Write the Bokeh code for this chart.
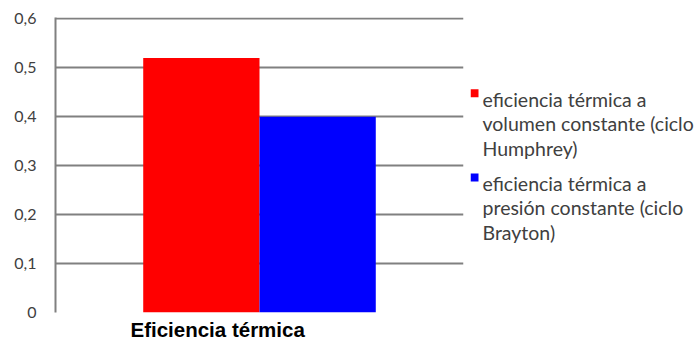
from bokeh.plotting import figure
from bokeh.layouts import row
from bokeh.models import (ColumnDataSource, FactorRange, Range1d, FixedTicker,
                          Title)
from bokeh.transform import dodge
from bokeh.core.properties import value
from bokeh.embed import file_html
from bokeh.resources import INLINE

# --- data -------------------------------------------------------------
category = ["Eficiencia térmica"]
series_names = [
    "eficiencia térmica a\nvolumen constante (ciclo\nHumphrey)",
    "eficiencia térmica a\npresión constante (ciclo\nBrayton)",
]
series_colors = ["#ff0000", "#0000ff"]
humphrey = [0.52]
brayton = [0.40]
y_ticks = [0.0, 0.1, 0.2, 0.3, 0.4, 0.5, 0.6]
y_tick_labels = ["0", "0,1", "0,2", "0,3", "0,4", "0,5", "0,6"]

GRID = "#808080"
TEXT = "#404040"
TOP, BOTTOM, H = 17, 30, 343

# --- bar chart --------------------------------------------------------
p = figure(width=470, height=H, output_backend="svg", toolbar_location=None,
           x_range=FactorRange(factors=category, range_padding=0),
           y_range=Range1d(0, 0.603),
           min_border_left=55, min_border_right=7,
           min_border_top=TOP, min_border_bottom=BOTTOM)
p.outline_line_color = None
p.background_fill_color = "white"
p.border_fill_color = "white"

src = ColumnDataSource(dict(cat=category, humphrey=humphrey, brayton=brayton))
bar_w = 0.285
p.vbar(x=dodge("cat", -0.1425, range=p.x_range), top="humphrey", width=bar_w,
       source=src, fill_color=series_colors[0], line_color=None)
p.vbar(x=dodge("cat", 0.1425, range=p.x_range), top="brayton", width=bar_w,
       source=src, fill_color=series_colors[1], line_color=None)

p.xaxis.visible = False
p.xgrid.visible = False
p.ygrid.ticker = FixedTicker(ticks=y_ticks)
p.ygrid.grid_line_color = GRID
p.ygrid.grid_line_width = 2

yax = p.yaxis[0]
yax.ticker = FixedTicker(ticks=y_ticks)
yax.major_label_overrides = {t: s for t, s in zip(y_ticks, y_tick_labels)}
yax.axis_line_color = GRID
yax.axis_line_width = 2
yax.major_tick_line_color = None
yax.minor_tick_line_color = None
yax.major_label_standoff = 13
yax.major_label_text_font = "Lato"
yax.major_label_text_font_size = "16px"
yax.major_label_text_color = TEXT

# category name under the bars
p.add_layout(Title(text=category[0], align="left", offset=75, standoff=6,
                   vertical_align="bottom",
                   text_font="Liberation Sans", text_font_size="20.5px",
                   text_font_style="bold", text_color="#000000"), "below")

# --- legend panel (data units = pixels) -------------------------------
leg = figure(width=228, height=H, output_backend="svg", toolbar_location=None,
             x_range=Range1d(0, 228), y_range=Range1d(H - BOTTOM, TOP),
             min_border_left=0, min_border_right=0,
             min_border_top=TOP, min_border_bottom=BOTTOM)
leg.axis.visible = False
leg.grid.visible = False
leg.outline_line_color = None

first_baseline = 99
line_step = 24.5
entry_gap = 11

# one square per series, one text row per wrapped line
sq_x, sq_y, tx, ty, lines = [], [], [], [], []
y = first_baseline
for name in series_names:
    parts = name.split("\n")
    sq_x.append(4)
    sq_y.append(y - 6)
    for part in parts:
        lines.append(part)
        tx.append(12)
        ty.append(y)
        y += line_step
    y += entry_gap

leg.scatter(x=sq_x, y=sq_y, marker="square", size=8, fill_color=series_colors,
            line_color=None)
leg.text(x=tx, y=ty, text=lines,
         text_font=value("Lato"), text_font_size="19.5px", text_color=TEXT,
         text_baseline="alphabetic", text_align="left")

layout = row(p, leg, spacing=0)
open("out.html", "w").write(file_html(layout, INLINE))
